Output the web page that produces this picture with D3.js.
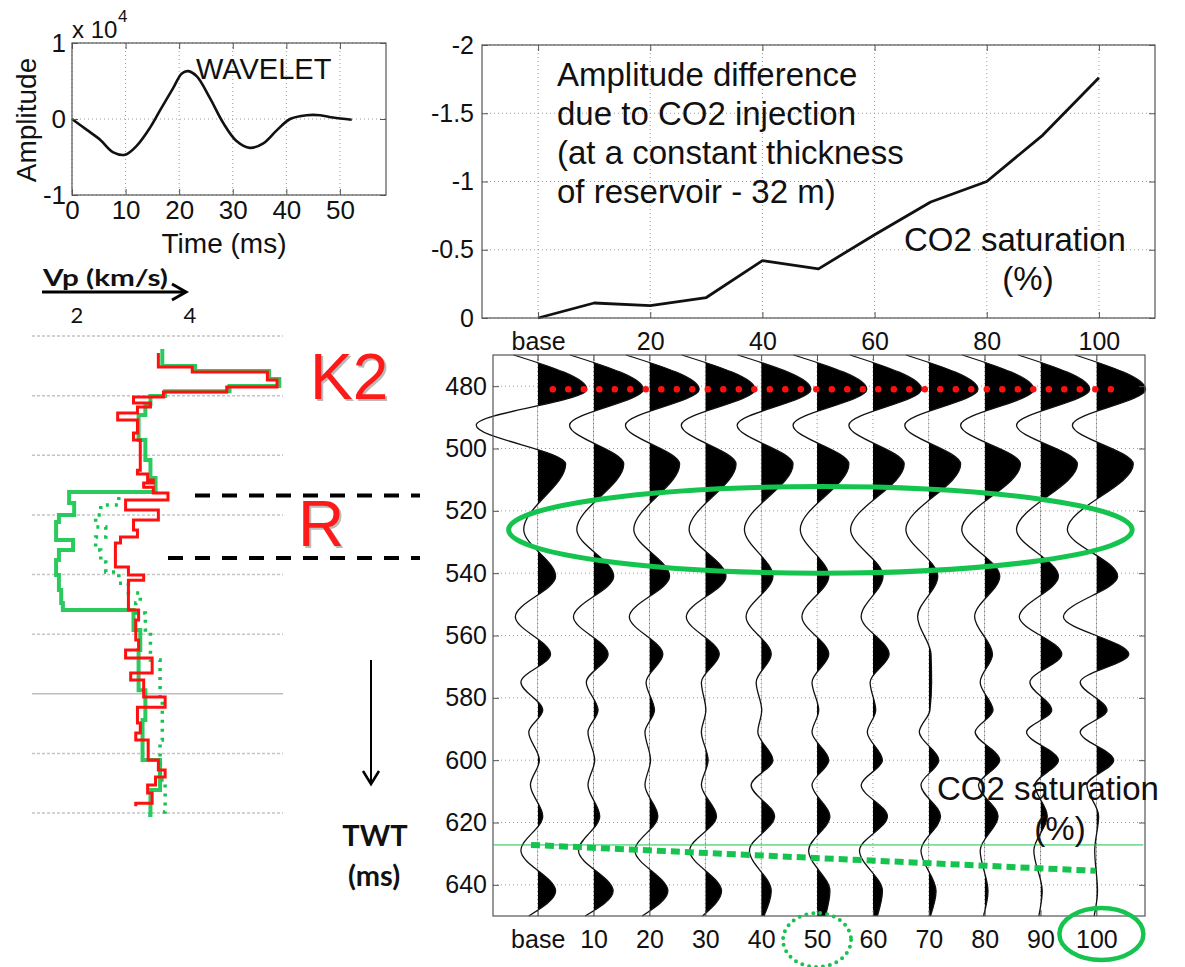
<!DOCTYPE html>
<meta charset="utf-8">
<script src="https://cdn.jsdelivr.net/npm/d3@7"></script>
<style>
 body { margin: 0; background: #fff; }
 text { font-family: "Liberation Sans", Arial, sans-serif; fill: #111; }
 text.cal { font-family: Lato, "Open Sans", sans-serif; }
</style>
<div id="container"></div>
<script>
 var width = 1185, height = 967;

 // ---- wavelet (ms, amplitude x 1e4)
 var waveletTime = [0, 2.7, 5.2, 7.7, 9.9, 12.1, 14.6, 16.4, 18.9, 20.5, 21.7, 23.3, 25.7, 28.2, 30.7, 33.2, 35.7, 38.2, 40.7, 43.8, 46.3, 48.7, 52.2];
 var waveletAmp = [0, -0.14, -0.27, -0.44, -0.47, -0.35, -0.11, 0.11, 0.41, 0.6, 0.63, 0.56, 0.28, -0.05, -0.29, -0.38, -0.32, -0.15, 0, 0.05, 0.05, 0.02, -0.01];
 var waveletXTicks = [0, 10, 20, 30, 40, 50];
 var waveletYTicks = [-1, 0, 1];

 // ---- amplitude difference vs CO2 saturation
 var saturation = [0, 10, 20, 30, 40, 50, 60, 70, 80, 90, 100];
 var satLabels = ["base", "10", "20", "30", "40", "50", "60", "70", "80", "90", "100"];
 var ampDiff = [0, -0.11, -0.09, -0.15, -0.42, -0.36, -0.61, -0.85, -1.0, -1.34, -1.76];
 var ampDiffYTicks = [-2, -1.5, -1, -0.5, 0];
 var ampDiffXTicks = [0, 20, 40, 60, 80, 100];

 // ---- synthetic traces: extrema times (ms) and amplitudes (in % units) per trace
 var twtTicks = [480, 500, 520, 540, 560, 580, 600, 620, 640];
 var eventTime = [470, 481, 492.5, 505, 526, 541, 554, 566, 575, 584, 591, 600, 608, 618, 629, 642, 650];
 var traceAmp = [
   [-4.3, 8.8, -11, 5.0, -2.5, 3.2, -4.0, 2.3, -3.0, 0.9, -1.6, 0.3, -1.3, 0.9, -3.0, 3.2, -1.6],
   [-4.2, 8.9, -4.3, 5.4, -3.0, 3.6, -3.6, 2.6, -1.3, 0.8, -1.0, 0.2, -1.0, 1.1, -2.7, 3.5, -1.5],
   [-4.2, 8.9, -4.3, 5.4, -2.8, 3.6, -3.6, 2.4, -0.6, 0.9, -0.8, 0.2, -0.8, 1.5, -2.6, 3.3, -1.3],
   [-4.2, 8.9, -4.3, 5.5, -2.9, 3.7, -3.4, 2.5, -0.7, 0.1, -0.7, 0.5, -0.7, 2.0, -2.8, 2.9, -0.5],
   [-4.2, 8.9, -4.3, 5.7, -3.0, 2.1, -2.7, 1.8, -0.9, 0.1, -0.6, 2.1, -1.8, 2.4, -2.1, 1.8, 0.5],
   [-4.2, 8.9, -4.3, 5.7, -3.0, 2.1, -2.7, 2.1, -0.9, 0.3, -0.9, 2.1, -0.9, 2.3, -1.5, 2.3, 1.5],
   [-4.1, 8.7, -4.3, 5.6, -4.0, 1.8, -2.1, 2.9, -0.5, 0.5, -1.0, 1.7, -2.1, 2.6, -2.4, 1.7, 0.8],
   [-4.1, 8.8, -4.3, 5.7, -4.1, 1.6, -2.0, 0.4, 0.5, 0.2, -1.7, 1.8, -1.4, 2.1, -1.4, 1.3, 0.3],
   [-4.0, 8.8, -4.3, 6.4, -4.1, 2.7, -1.8, 1.4, -0.8, 1.5, -1.7, 2.7, -1.1, 2.4, -0.8, 0.6, -0.2],
   [-4.0, 8.8, -4.3, 6.6, -4.3, 3.2, -3.8, 3.8, -1.9, 2.0, -2.5, 3.2, -1.0, 1.2, -1.2, 0.3, -0.3],
   [-3.8, 8.8, -4.3, 6.6, -5.2, 3.8, -5.9, 5.8, -2.9, 1.9, -2.9, 3.1, -1.7, 0.4, -0.3, 0.2, -0.4]
 ];
 var k2Twt = 481;                       // red dotted pick
 var fluidSat = [-1.2, 99.8], fluidTwt = [627.2, 635.5];
 var thinGreenTwt = 627.2;

 // ---- Vp logs: [twt ms, Vp km/s], step after each sample
 var logTicks = [465, 485, 505, 525, 545, 565, 585, 605, 625];
 var vpBase = [[470.7,3.44],[475.4,4.04],[477.1,5.37],[479.8,5.54],[482.1,4.65],[483.8,3.53],[485.5,3.0],[487.5,3.3],[488.8,3.07],[490.8,2.72],[493.2,3.07],[497.5,3.0],[499.9,3.12],[510.0,3.07],[511.3,3.25],[513.3,3.35],[514.3,3.18],[515.7,3.35],[517.7,3.61],[520.0,2.86],[523.4,3.44],[526.7,3.0],[530.1,3.07],[532.4,2.77],[534.4,2.68],[542.5,2.91],[545.2,3.18],[546.9,2.91],[556.9,3.09],[560.3,3.04],[567.0,3.09],[570.3,2.86],[573.0,3.33],[578.0,2.95],[580.4,3.18],[586.1,3.56],[589.5,3.07],[594.8,3.12],[598.2,3.04],[600.5,3.26],[607.2,3.44],[610.6,3.56],[612.9,3.39],[615.6,3.25],[618.3,3.33],[621.7,3.04],[622.7,3.04]];
 var vpCO2 = [[469.4,3.51],[475.1,4.09],[476.7,5.40],[479.4,5.58],[481.8,4.70],[483.5,3.56],[485.1,3.30],[487.8,3.21],[491.5,3.09],[499.9,3.21],[506.6,3.30],[512.6,3.39],[517.3,1.86],[521.0,1.95],[525.0,1.68],[527.4,1.63],[533.4,1.93],[536.8,1.68],[540.1,1.63],[545.2,1.68],[550.2,1.72],[554.6,1.75],[556.9,3.0],[563.6,3.12],[570.3,3.09],[583.8,3.21],[593.8,3.16],[607.2,3.47],[617.3,3.30],[625.7,3.26]];
 var vpPartial = [[519.0,2.74],[521.7,2.42],[525.0,2.33],[529.1,2.51],[532.4,2.33],[536.8,2.42],[540.8,2.51],[544.2,2.74],[547.9,2.91],[551.2,3.12],[554.6,3.04],[557.9,3.21],[563.6,3.30],[573.7,3.47],[587.1,3.51],[600.5,3.47],[613.9,3.56],[624.7,3.44]];
 var reservoirTwt = [518.5, 539.5];

 var green = "#14c44e", red = "#ff1010", gridCol = "#9a9a9a", frameCol = "#555";

 var svg = d3.select("#container").append("svg")
             .attr("width", width).attr("height", height)
             .style("background", "#fff");

 function bounds(x, y) {
     var xr = x.range(), yr = y.range();
     return {x0: Math.min(xr[0], xr[1]), x1: Math.max(xr[0], xr[1]),
             top: Math.min(yr[0], yr[1]), bot: Math.max(yr[0], yr[1])};
 }

 function axes(g, x, y, xt, yt) {
     var b = bounds(x, y);
     var grid = g.append("g").attr("stroke", gridCol).attr("stroke-width", 1).attr("stroke-dasharray", "1,3");
     grid.selectAll("line.v").data(xt).enter().append("line")
         .attr("x1", d => x(d)).attr("x2", d => x(d)).attr("y1", b.top).attr("y2", b.bot);
     grid.selectAll("line.h").data(yt).enter().append("line")
         .attr("y1", d => y(d)).attr("y2", d => y(d)).attr("x1", b.x0).attr("x2", b.x1);
 }

 function frame(g, x, y, xt, yt, opt) {
     var b = bounds(x, y);
     var bx = d3.axisBottom(x).tickValues(xt).tickSize(-6).tickPadding(opt.xPad).tickFormat(opt.xFormat || (d => d));
     var ly = d3.axisLeft(y).tickValues(yt).tickSize(-6).tickPadding(opt.yPad).tickFormat(opt.yFormat || (d => d));
     g.append("g").attr("transform", `translate(0,${b.bot})`).call(bx);
     g.append("g").attr("transform", `translate(${b.x0},0)`).call(ly);
     g.append("g").attr("transform", `translate(0,${b.top})`).call(d3.axisTop(x).tickValues(xt).tickSize(-6).tickFormat(""));
     g.append("g").attr("transform", `translate(${b.x1},0)`).call(d3.axisRight(y).tickValues(yt).tickSize(-6).tickFormat(""));
     g.selectAll(".domain").remove();
     g.selectAll(".tick line").attr("stroke", frameCol);
     g.selectAll(".tick text").attr("font-family", "Liberation Sans, Arial, sans-serif")
      .attr("font-size", opt.fontSize).attr("fill", "#111");
     g.append("rect").attr("x", b.x0).attr("y", b.top).attr("width", b.x1 - b.x0).attr("height", b.bot - b.top)
      .attr("fill", "none").attr("stroke", frameCol).attr("stroke-width", 1.2);
 }

 // ================= WAVELET =================
 var xW = d3.scaleLinear().domain([0, 58.6]).range([72, 386]);
 var yW = d3.scaleLinear().domain([-1, 1]).range([195, 43]);
 var gW = svg.append("g");
 axes(gW, xW, yW, waveletXTicks, waveletYTicks);
 gW.append("path")
   .datum(waveletTime.map((t, i) => [t, waveletAmp[i]]))
   .attr("fill", "none").attr("stroke", "#111").attr("stroke-width", 2.6)
   .attr("d", d3.line().x(d => xW(d[0])).y(d => yW(d[1])).curve(d3.curveCatmullRom));
 frame(gW, xW, yW, waveletXTicks, waveletYTicks, {fontSize: 26, xPad: 6, yPad: 6});
 gW.append("text").attr("x", 72).attr("y", 38).attr("font-size", 24).text("x 10");
 gW.append("text").attr("x", 118).attr("y", 22).attr("font-size", 17).text("4");
 gW.append("text").attr("x", 196).attr("y", 79).attr("font-size", 29).text("WAVELET");
 gW.append("text").attr("transform", "translate(36,120) rotate(-90)").attr("text-anchor", "middle")
   .attr("font-size", 28).text("Amplitude");
 gW.append("text").attr("x", 224).attr("y", 253).attr("text-anchor", "middle").attr("font-size", 28).text("Time (ms)");

 // ================= AMPLITUDE DIFFERENCE =================
 var xA = d3.scaleLinear().domain([-10, 110]).range([482, 1155]);
 var yA = d3.scaleLinear().domain([0, -2]).range([318, 45]);
 var gA = svg.append("g");
 axes(gA, xA, yA, ampDiffXTicks, ampDiffYTicks);
 gA.append("path")
   .datum(saturation.map((s, i) => [s, ampDiff[i]]))
   .attr("fill", "none").attr("stroke", "#111").attr("stroke-width", 2.8).attr("stroke-linejoin", "round")
   .attr("d", d3.line().x(d => xA(d[0])).y(d => yA(d[1])));
 frame(gA, xA, yA, ampDiffXTicks, ampDiffYTicks, {fontSize: 25, xPad: 14, yPad: 8,
       xFormat: d => d === 0 ? "base" : d});
 var note = ["Amplitude difference", "due to CO2 injection", "(at a constant thickness", "of reservoir - 32 m)"];
 gA.selectAll("text.note").data(note).enter().append("text")
   .attr("x", 557).attr("y", (d, i) => 86 + i * 39).attr("font-size", 33).text(d => d);
 gA.append("text").attr("x", 904).attr("y", 251).attr("font-size", 33).text("CO2 saturation");
 gA.append("text").attr("x", 1028).attr("y", 290).attr("text-anchor", "middle").attr("font-size", 33).text("(%)");

 // ================= SEISMIC TRACES =================
 var xS = d3.scaleLinear().domain([-8, 108.7]).range([493, 1145]);
 var yS = d3.scaleLinear().domain([470, 650]).range([355, 916]);
 var gS = svg.append("g");
 axes(gS, xS, yS, saturation, twtTicks);

 var traces = saturation.map((s, i) => eventTime.map((t, j) => ({sat: s, t: t, amp: traceAmp[i][j]})));
 var traceLine = d3.line().x(d => xS(d.sat + d.amp)).y(d => yS(d.t)).curve(d3.curveMonotoneY);
 var traceArea = d3.area().x0(d => xS(d.sat)).x1(d => xS(d.sat + d.amp)).y(d => yS(d.t)).curve(d3.curveMonotoneY);

 var defs = svg.append("defs");
 defs.selectAll("clipPath").data(saturation).enter().append("clipPath")
     .attr("id", (d, i) => `pos-${i}`)
     .append("rect").attr("x", d => xS(d)).attr("y", 0).attr("width", 90).attr("height", height);

 var tg = gS.selectAll("g.trace").data(traces).enter().append("g").attr("class", "trace");
 tg.append("path").attr("d", traceArea).attr("fill", "#000")
   .attr("clip-path", (d, i) => `url(#pos-${i})`);
 tg.append("path").attr("d", traceLine).attr("fill", "none").attr("stroke", "#111").attr("stroke-width", 1.3);

 frame(gS, xS, yS, saturation, twtTicks, {fontSize: 25, xPad: 14, yPad: 6,
       xFormat: (d, i) => satLabels[i]});

 // red dotted horizon pick
 gS.append("line").attr("x1", xS(2.7)).attr("x2", xS(104)).attr("y1", yS(k2Twt)).attr("y2", yS(k2Twt))
   .attr("stroke", red).attr("stroke-width", 6.5).attr("stroke-linecap", "round").attr("stroke-dasharray", "0,15.5");

 // reservoir ellipse
 gS.append("ellipse").attr("cx", xS(50.6)).attr("cy", yS(526.1))
   .attr("rx", xS(50.6) - xS(-5.2)).attr("ry", yS(540) - yS(526.1))
   .attr("fill", "none").attr("stroke", green).attr("stroke-width", 5);

 // thin green line and dashed fluid line
 gS.append("line").attr("x1", xS(-8)).attr("x2", xS(108.4)).attr("y1", yS(thinGreenTwt)).attr("y2", yS(thinGreenTwt))
   .attr("stroke", green).attr("stroke-width", 1);
 gS.append("line").attr("x1", xS(fluidSat[0])).attr("x2", xS(fluidSat[1]))
   .attr("y1", yS(fluidTwt[0])).attr("y2", yS(fluidTwt[1]))
   .attr("stroke", green).attr("stroke-width", 6).attr("stroke-dasharray", "9,5");

 gS.append("text").attr("x", 937).attr("y", 800).attr("font-size", 33).text("CO2 saturation");
 gS.append("text").attr("x", 1060).attr("y", 840).attr("text-anchor", "middle").attr("font-size", 33).text("(%)");

 // circles around labels
 gS.append("ellipse").attr("cx", xS(50)).attr("cy", 940).attr("rx", 34).attr("ry", 27)
   .attr("fill", "none").attr("stroke", green).attr("stroke-width", 4)
   .attr("stroke-linecap", "round").attr("stroke-dasharray", "0,7");
 gS.append("ellipse").attr("cx", xS(100) + 5).attr("cy", 934).attr("rx", 42).attr("ry", 26)
   .attr("fill", "none").attr("stroke", green).attr("stroke-width", 4.5);

 // ================= VP LOG =================
 var xV = d3.scaleLinear().domain([2, 4]).range([77, 190]);
 var yV = d3.scaleLinear().domain([465, 625]).range([336, 813]);
 var gV = svg.append("g");
 gV.selectAll("line.grid").data(logTicks).enter().append("line")
   .attr("x1", 32).attr("x2", 283).attr("y1", d => yV(d)).attr("y2", d => yV(d))
   .attr("stroke", d => d === 585 ? "#bdbdbd" : "#c4c4c4").attr("stroke-width", 1.5)
   .attr("stroke-dasharray", d => d === 585 ? null : "3,2");

 var vpLine = d3.line().x(d => xV(d[1])).y(d => yV(d[0])).curve(d3.curveStepBefore);
 gV.append("path").datum(vpCO2).attr("d", vpLine).attr("fill", "none")
   .attr("stroke", green).attr("stroke-width", 4).attr("stroke-opacity", 0.9);
 gV.append("path").datum(vpPartial).attr("d", vpLine).attr("fill", "none")
   .attr("stroke", green).attr("stroke-width", 3.5).attr("stroke-dasharray", "3,6");
 gV.append("path").datum(vpBase).attr("d", vpLine).attr("fill", "none")
   .attr("stroke", red).attr("stroke-width", 3);

 // Vp axis header
 gV.append("line").attr("x1", 42).attr("x2", 184).attr("y1", 292).attr("y2", 292)
   .attr("stroke", "#000").attr("stroke-width", 3);
 gV.append("path").attr("d", "M172,284 L186,292 L172,300").attr("fill", "none")
   .attr("stroke", "#000").attr("stroke-width", 3);
 gV.append("text").attr("class", "cal").attr("x", 43).attr("y", 286).attr("font-size", 22)
   .attr("font-weight", "bold").attr("textLength", 125).attr("lengthAdjust", "spacingAndGlyphs").text("Vp (km/s)");
 gV.selectAll("text.vt").data([2, 4]).enter().append("text").attr("class", "cal")
   .attr("x", d => xV(d)).attr("y", 323).attr("text-anchor", "middle").attr("font-size", 22).text(d => d);

 // reservoir markers
 gV.selectAll("line.res").data(reservoirTwt).enter().append("line")
   .attr("x1", (d, i) => i ? 168 : 195).attr("x2", 420)
   .attr("y1", d => yV(d)).attr("y2", d => yV(d))
   .attr("stroke", "#000").attr("stroke-width", 4).attr("stroke-dasharray", "15,12");

 function label(txt, x, y) {
     gV.append("text").attr("x", x + 2).attr("y", y + 2).attr("font-size", 64)
       .style("fill", "#bbb").text(txt);
     gV.append("text").attr("x", x).attr("y", y).attr("font-size", 64)
       .style("fill", "#ff1a1a").text(txt);
 }
 label("K2", 310, 399);
 label("R", 298, 546);

 // TWT arrow
 gV.append("line").attr("x1", 371).attr("x2", 371).attr("y1", 660).attr("y2", 783)
   .attr("stroke", "#000").attr("stroke-width", 2);
 gV.append("path").attr("d", "M363,771 L371,784 L379,771").attr("fill", "none")
   .attr("stroke", "#000").attr("stroke-width", 2.5);
 gV.append("text").attr("class", "cal").attr("x", 375).attr("y", 846).attr("text-anchor", "middle")
   .attr("font-size", 29).attr("font-weight", "bold").text("TWT");
 gV.append("text").attr("class", "cal").attr("x", 374).attr("y", 886).attr("text-anchor", "middle")
   .attr("font-size", 29).attr("font-weight", "bold").text("(ms)");
</script>
